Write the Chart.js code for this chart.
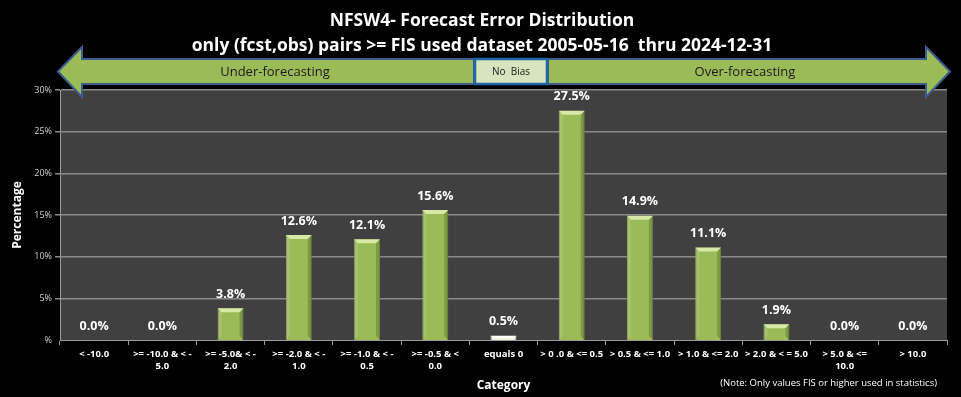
<!DOCTYPE html>
<html>
<head>
<meta charset="utf-8">
<script src="https://cdn.jsdelivr.net/npm/chart.js@4"></script>
<style>
  html, body { margin: 0; padding: 0; background: #000; }
  #wrap { width: 961px; height: 397px; position: relative; }
</style>
</head>
<body>
<div id="wrap"><canvas id="chart"></canvas></div>
<script>
// ---------- data ----------
const categories = [
  "< -10.0",
  [">= -10.0 & < -", "5.0"],
  [">= -5.0& < -", "2.0"],
  [">= -2.0 & < -", "1.0"],
  [">= -1.0 & < -", "0.5"],
  [">= -0.5 & <", "0.0"],
  "equals 0",
  "> 0 .0 & <= 0.5",
  "> 0.5 & <= 1.0",
  "> 1.0 & <= 2.0",
  "> 2.0 & < = 5.0",
  ["> 5.0 & <=", "10.0"],
  "> 10.0"
];
const percentages = [0.0, 0.0, 3.8, 12.6, 12.1, 15.6, 0.5, 27.5, 14.9, 11.1, 1.9, 0.0, 0.0];
const yTicks = [0, 5, 10, 15, 20, 25, 30];
const titleLines = [
  "NFSW4- Forecast Error Distribution",
  "only (fcst,obs) pairs >= FIS used dataset 2005-05-16  thru 2024-12-31"
];
const noteText = "(Note: Only values FIS or higher used in statistics)";

const FONT = "'Open Sans', 'Noto Sans', sans-serif";
const GREEN = "#9bbb59";
const ZERO_BAR = "#eef3dc";

// ---------- plugins ----------
// title + bias arrows + note
const decor = {
  id: "decor",
  afterDraw(chart) {
    const c = chart.ctx;
    c.save();
    c.fillStyle = "#fff";
    c.textAlign = "center";
    c.textBaseline = "middle";
    c.font = "bold 17.5px " + FONT;
    c.fillText(titleLines[0], 482, 21);
    c.fillText(titleLines[1], 482, 46);

    // arrows
    const drawArrow = (x0, x1, dir) => {
      // x0 = shaft start (flat end), x1 = tip
      const headLen = 24, sTop = 59, sBot = 84, hTop = 47, hBot = 97, mid = 71.5;
      const hx = x1 - dir * headLen;
      c.beginPath();
      c.moveTo(x0, sTop);
      c.lineTo(hx, sTop);
      c.lineTo(hx, hTop);
      c.lineTo(x1, mid);
      c.lineTo(hx, hBot);
      c.lineTo(hx, sBot);
      c.lineTo(x0, sBot);
      c.closePath();
      c.fillStyle = GREEN;
      c.fill();
      c.strokeStyle = "#3b5f8c";
      c.lineWidth = 2;
      c.stroke();
    };
    drawArrow(474, 58, -1);
    drawArrow(548, 950, 1);

    // no bias box
    c.fillStyle = "#d7e4bd";
    c.fillRect(475, 59, 72, 25);
    c.strokeStyle = "#1f65a8";
    c.lineWidth = 2.5;
    c.strokeRect(475, 59, 72, 25);

    c.fillStyle = "#1a1a1a";
    c.font = "13px " + FONT;
    c.fillText("Under-forecasting", 275, 72);
    c.fillText("Over-forecasting", 745, 72);
    c.font = "10px " + FONT;
    c.fillText("No  Bias", 511, 72);

    // note
    c.fillStyle = "#fff";
    c.font = "9.5px " + FONT;
    c.textAlign = "right";
    c.fillText(noteText, 937, 383);
    c.restore();
  }
};

// bar bevel highlights + value labels
const barLabels = {
  id: "barLabels",
  afterDatasetsDraw(chart) {
    const c = chart.ctx;
    const meta = chart.getDatasetMeta(0);
    c.save();
    meta.data.forEach((bar, i) => {
      const v = percentages[i];
      const w = bar.width, x = bar.x - w / 2, top = bar.y, bottom = bar.base;
      if (bottom - top > 3) {
        const b = Math.min(4, (bottom - top) / 2);
        // top bevel
        c.fillStyle = i === 6 ? "#ffffff" : "#d6e9a6";
        c.beginPath();
        c.moveTo(x, top);
        c.lineTo(x + w, top);
        c.lineTo(x + w - b, top + b);
        c.lineTo(x + b, top + b);
        c.closePath();
        c.fill();
        if (i !== 6) {
          // side shading
          c.fillStyle = "rgba(70,95,30,0.35)";
          c.beginPath();
          c.moveTo(x + w, top);
          c.lineTo(x + w, bottom);
          c.lineTo(x + w - b, bottom - b);
          c.lineTo(x + w - b, top + b);
          c.closePath();
          c.fill();
          c.fillStyle = "rgba(255,255,255,0.12)";
          c.beginPath();
          c.moveTo(x, top);
          c.lineTo(x, bottom);
          c.lineTo(x + b, bottom - b);
          c.lineTo(x + b, top + b);
          c.closePath();
          c.fill();
        }
      }
      c.fillStyle = "#fff";
      c.font = "bold 12.5px " + FONT;
      c.textAlign = "center";
      c.textBaseline = "middle";
      c.fillText(v.toFixed(1) + "%", bar.x, top - 14);
    });
    c.restore();
  }
};

// plot background
const plotBg = {
  id: "plotBg",
  beforeDraw(chart) {
    const a = chart.chartArea;
    const c = chart.ctx;
    c.save();
    c.fillStyle = "#000";
    c.fillRect(0, 0, chart.width, chart.height);
    c.fillStyle = "#404040";
    c.fillRect(a.left, a.top, a.right - a.left, a.bottom - a.top);
    c.restore();
  }
};

// ---------- chart ----------
const ctx = document.getElementById("chart").getContext("2d");
new Chart(ctx, {
  type: "bar",
  data: {
    labels: categories,
    datasets: [{
      label: "Percentage",
      data: percentages,
      backgroundColor: percentages.map((v, i) => i === 6 ? ZERO_BAR : GREEN),
      borderColor: percentages.map((v, i) => i === 6 ? "#c8d8a0" : "#7f9a48"),
      borderWidth: 1,
      barPercentage: 0.38,
      categoryPercentage: 1.0
    }]
  },
  options: {
    responsive: true,
    maintainAspectRatio: false,
    animation: false,
    devicePixelRatio: 1,
    layout: { padding: { top: 90, right: 14, left: 0, bottom: 0 } },
    plugins: {
      legend: { display: false },
      title: { display: false },
      tooltip: { enabled: false }
    },
    scales: {
      x: {
        grid: {
          display: true,
          drawOnChartArea: false,
          drawTicks: true,
          tickLength: 5,
          color: "#9a9a9a",
          offset: true
        },
        border: { color: "#9a9a9a", width: 1 },
        ticks: {
          color: "#fff",
          font: { family: FONT, size: 9.5, weight: "bold" },
          maxRotation: 0,
          minRotation: 0,
          autoSkip: false,
          padding: 4
        },
        title: {
          display: true,
          text: "Category",
          color: "#fff",
          font: { family: FONT, size: 12, weight: "bold" },
          padding: { top: 4 }
        },
        afterFit(scale) { scale.height = 57; }
      },
      y: {
        min: 0,
        max: 30,
        afterBuildTicks(scale) { scale.ticks = yTicks.map(v => ({ value: v })); },
        grid: {
          color: "#8a8a8a",
          tickLength: 5,
          drawTicks: true,
          lineWidth: (ctx) => ctx.tick && ctx.tick.value === 0 ? 0 : 1.5
        },
        border: { color: "#9a9a9a", width: 1 },
        ticks: {
          color: "#d0d0d0",
          font: { family: FONT, size: 9 },
          padding: 3,
          callback: (v) => v === 0 ? "%" : v + "%"
        },
        title: {
          display: true,
          text: "Percentage",
          color: "#fff",
          font: { family: FONT, size: 12, weight: "bold" },
          padding: { top: 10, bottom: 6 }
        },
        afterFit(scale) { scale.width = 60; }
      }
    }
  },
  plugins: [plotBg, barLabels, decor]
});
</script>
</body>
</html>
